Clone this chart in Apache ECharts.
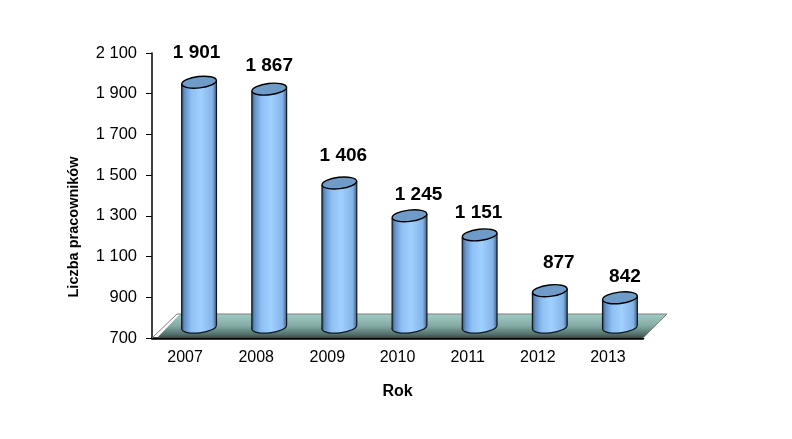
<!DOCTYPE html>
<html><head><meta charset="utf-8">
<style>html,body{margin:0;padding:0;background:#fff}#c{width:792px;height:439px}</style>
<script src="https://cdn.jsdelivr.net/npm/echarts@6/dist/echarts.min.js"></script>
</head><body><div id="c"></div>
<script>
const years = ['2007','2008','2009','2010','2011','2012','2013'];
const workers = [1901,1867,1406,1245,1151,877,842];
const yTicks = [700,900,1100,1300,1500,1700,1900,2100];
const labelNudgeX = [-2.5,0,4,9,-1,9,5];
const labelNudgeY = [-29,-23,-27,-21,-22,-28,-21];
const yearPadRight = [4,2,0,0,0,0,0];
const FONT = '"Liberation Sans", Arial, sans-serif';
const fmt = v => String(v).replace(/\B(?=(\d{3})+$)/g,' ');
const chart = echarts.init(document.getElementById('c'),null,{renderer:'canvas'});
const barGrad = new echarts.graphic.LinearGradient(0,0,1,0,[
  {offset:0,color:'#34506f'},{offset:.08,color:'#6390c4'},{offset:.28,color:'#8fc0f4'},
  {offset:.55,color:'#a0d0ff'},{offset:.88,color:'#84b4e8'},{offset:1,color:'#41618a'}]);
const floorGrad = new echarts.graphic.LinearGradient(0,0,0,1,[
  {offset:0,color:'#a2cbc5'},{offset:.5,color:'#83a9a3'},{offset:.85,color:'#52706b'},{offset:1,color:'#3a4644'}]);
chart.setOption({
  animation:false,
  backgroundColor:'#fff',
  grid:{left:152,right:149,top:53,bottom:101},
  xAxis:{type:'category',
    data:years.map((y,i)=>({value:y,textStyle:{padding:[0,yearPadRight[i],0,0]}})),
    name:'Rok',nameLocation:'middle',nameGap:46,
    nameTextStyle:{fontFamily:FONT,fontSize:16,fontWeight:'bold',color:'#000'},
    axisLine:{lineStyle:{color:'#000',width:2.5}},
    axisTick:{length:5,interval:1,lineStyle:{color:'#000',width:1}},
    axisLabel:{fontFamily:FONT,fontSize:16,color:'#000',margin:12,interval:0}},
  yAxis:{type:'value',min:700,max:2100,
    name:'Liczba pracowników',nameLocation:'middle',nameGap:71,
    nameTextStyle:{fontFamily:FONT,fontSize:14.5,fontWeight:'bold',color:'#000',padding:[0,63,0,0]},
    axisLine:{show:true,onZero:false,lineStyle:{color:'#000',width:1.5}},
    axisTick:{show:true,length:6,customValues:yTicks,lineStyle:{color:'#000',width:1}},
    axisLabel:{fontFamily:FONT,fontSize:16.5,color:'#000',margin:15,customValues:yTicks,formatter:fmt},
    splitLine:{show:false}},
  series:[
   {type:'custom',z:1,data:[[0]],silent:true,
    renderItem:(p,api)=>{
      const c=p.coordSys, x0=c.x, x1=c.x+c.width, y0=c.y+c.height, d=24;
      return {type:'group',children:[
        {type:'polygon',shape:{points:[[x0+5,y0],[x1,y0],[x1+d,y0-d],[x0+28,y0-d]]},style:{fill:floorGrad,stroke:null}},
        {type:'polyline',shape:{points:[[x0,y0],[x0+25,y0-d],[x1+d,y0-d],[x1,y0]]},style:{fill:null,stroke:'#7f7f7f',lineWidth:1}}
      ]};
    }},
   {type:'custom',z:2,silent:true,data:workers.map((v,i)=>[i,v]),encode:{x:0,y:1},
    renderItem:(p,api)=>{
      const i=api.value(0), v=api.value(1);
      const top=api.coord([i,v]), base=api.coord([i,700]);
      const cx=top[0]+12, r=17.4, ry=5.7, tilt=2;
      const ty=top[1]-11.3, by=base[1]-10.8;
      const rot=Math.atan2(tilt,r);
      const stroke='#10161e';
      return {type:'group',children:[
        {type:'ellipse',shape:{cx:cx,cy:by,rx:r,ry:ry},rotation:rot,originX:cx,originY:by,
          style:{fill:barGrad,stroke:stroke,lineWidth:1.2}},
        {type:'polygon',shape:{points:[[cx-r,by+tilt],[cx+r,by-tilt],[cx+r,ty-tilt],[cx-r,ty+tilt]]},
          style:{fill:barGrad,stroke:null}},
        {type:'line',shape:{x1:cx-r,y1:by+tilt,x2:cx-r,y2:ty+tilt},style:{stroke:stroke,lineWidth:1.2}},
        {type:'line',shape:{x1:cx+r,y1:by-tilt,x2:cx+r,y2:ty-tilt},style:{stroke:stroke,lineWidth:1.2}},
        {type:'ellipse',shape:{cx:cx,cy:ty,rx:r,ry:ry},rotation:rot,originX:cx,originY:ty,
          style:{fill:'#6f9bc8',stroke:'#000',lineWidth:1.4}},
        {type:'text',x:cx+labelNudgeX[i],y:ty+labelNudgeY[i],
          style:{text:fmt(v),font:'bold 19px '+FONT,fill:'#000',align:'center',verticalAlign:'middle'}}
      ]};
    }}
  ]
});
</script></body></html>
